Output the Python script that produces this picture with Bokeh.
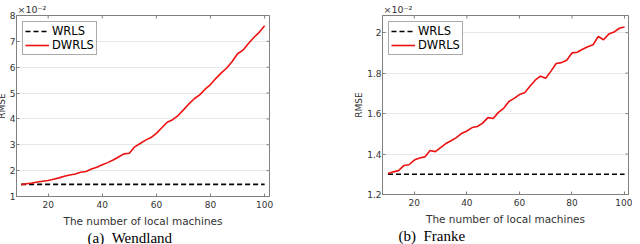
from bokeh.plotting import figure
from bokeh.models import Range1d, FixedTicker, Legend, LegendItem, Title
from bokeh.layouts import row
from bokeh.embed import file_html
from bokeh.resources import INLINE

# ---- data (RMSE values in units of 1e-2) ----
machines = list(range(10, 101, 2))

wendland_dwrls = [1.46, 1.49, 1.52, 1.56, 1.59, 1.62, 1.67, 1.72, 1.78, 1.83,
                  1.87, 1.94, 1.97, 2.06, 2.13, 2.23, 2.31, 2.41, 2.53, 2.65,
                  2.67, 2.92, 3.05, 3.18, 3.28, 3.44, 3.66, 3.87, 3.97, 4.13,
                  4.35, 4.58, 4.78, 4.93, 5.15, 5.33, 5.57, 5.78, 5.97, 6.22,
                  6.52, 6.66, 6.92, 7.15, 7.35, 7.60]
wendland_wrls = 1.47

franke_dwrls = [1.304, 1.312, 1.318, 1.343, 1.347, 1.370, 1.380, 1.386, 1.418, 1.412,
                1.432, 1.452, 1.466, 1.481, 1.502, 1.514, 1.531, 1.536, 1.553, 1.580,
                1.576, 1.606, 1.626, 1.660, 1.675, 1.694, 1.703, 1.735, 1.765, 1.785,
                1.775, 1.810, 1.848, 1.852, 1.864, 1.900, 1.903, 1.918, 1.930, 1.940,
                1.981, 1.965, 1.993, 2.003, 2.022, 2.028]
franke_wrls = 1.30

x_ticks = [20, 40, 60, 80, 100]
wendland_yticks = [1, 2, 3, 4, 5, 6, 7, 8]
franke_yticks = [1.2, 1.4, 1.6, 1.8, 2.0]

SANS = "DejaVu Sans"
SERIF = "Liberation Serif"
AXC = "#808080"
TXC = "#333333"
TICK_PX = 3


def panel(dwrls, wrls_level, xr, yr, yticks, fw, fh, bl, br, bt, bb, caption, cap_off):
    p = figure(frame_width=fw, frame_height=fh,
               x_range=Range1d(*xr), y_range=Range1d(*yr),
               output_backend="svg", toolbar_location=None,
               min_border_left=bl, min_border_right=br,
               min_border_top=bt, min_border_bottom=bb)
    p.background_fill_color = "white"
    p.border_fill_color = "white"
    p.outline_line_color = AXC
    p.outline_line_width = 1

    p.xgrid.visible = False
    p.ygrid.ticker = FixedTicker(ticks=yticks)
    p.ygrid.grid_line_color = "#e8e8e8"

    # inward ticks on the top and right edges of the box (MATLAB style)
    dx = TICK_PX * (xr[1] - xr[0]) / fw
    dy = TICK_PX * (yr[1] - yr[0]) / fh
    p.segment(x0=x_ticks, x1=x_ticks, y0=[yr[1]] * len(x_ticks),
              y1=[yr[1] - dy] * len(x_ticks), line_color=AXC, line_width=1)
    p.segment(x0=[xr[1]] * len(yticks), x1=[xr[1] - dx] * len(yticks),
              y0=yticks, y1=yticks, line_color=AXC, line_width=1)

    wr = p.line(machines, [wrls_level] * len(machines), line_color="black",
                line_width=1.6, line_dash="5 3")
    dw = p.line(machines, dwrls, line_color="#ee1111", line_width=1.6)

    for ax in (p.xaxis[0], p.yaxis[0]):
        ax.axis_line_color = AXC
        ax.major_tick_line_color = AXC
        ax.major_tick_in = TICK_PX
        ax.major_tick_out = 0
        ax.minor_tick_line_color = None
        ax.major_label_text_font = SANS
        ax.major_label_text_font_size = "9px"
        ax.major_label_text_color = TXC
        ax.axis_label_text_font = SANS
        ax.axis_label_text_font_style = "normal"
        ax.axis_label_text_color = TXC
    p.xaxis.ticker = FixedTicker(ticks=x_ticks)
    p.yaxis.ticker = FixedTicker(ticks=yticks)
    p.xaxis.axis_label = "The number of local machines"
    p.xaxis.axis_label_text_font_size = "10.5px"
    p.xaxis.axis_label_text_line_height = 1.0
    p.xaxis.axis_label_standoff = 4
    p.xaxis.major_label_standoff = 4
    p.yaxis.axis_label = "RMSE"
    p.yaxis.axis_label_text_font_size = "9px"
    p.yaxis.axis_label_text_line_height = 1.0
    p.yaxis.axis_label_standoff = 0
    p.yaxis.major_label_standoff = 1

    leg = Legend(items=[LegendItem(label="WRLS", renderers=[wr]),
                        LegendItem(label="DWRLS", renderers=[dw])],
                 location="top_left", margin=6, padding=2, spacing=0,
                 glyph_width=24, glyph_height=12, label_height=12,
                 label_standoff=3, label_text_font=SANS,
                 label_text_font_size="11.5px", label_text_line_height=1.0,
                 label_text_color="black",
                 border_line_color="#555555", border_line_width=1,
                 background_fill_color="white", background_fill_alpha=1)
    p.add_layout(leg, "center")

    p.add_layout(Title(text="×10⁻²", align="left", offset=1, standoff=2,
                       text_font=SANS, text_font_size="9.5px",
                       text_font_style="normal", text_color=TXC), "above")
    p.add_layout(Title(text=caption, align="left", offset=cap_off, standoff=0,
                       vertical_align="top", text_line_height=0.9,
                       text_font=SERIF, text_font_size="15px",
                       text_font_style="normal", text_color="black"), "below")
    return p


p1 = panel(wendland_dwrls, wendland_wrls, (8.3, 101.8), (1, 8), wendland_yticks,
           fw=253, fh=181, bl=24, br=43, bt=15, bb=48,
           caption="(a)\u2002Wendland", cap_off=71)
p2 = panel(franke_dwrls, franke_wrls, (7.9, 101.5), (1.2, 2.085), franke_yticks,
           fw=246, fh=179, bl=70, br=4, bt=16, bb=49,
           caption="(b)\u2002Franke", cap_off=16)

layout = row(p1, p2)
layout.styles = {"margin-left": "-8px", "margin-top": "-1px"}

open("out.html", "w").write(file_html(layout, INLINE))
